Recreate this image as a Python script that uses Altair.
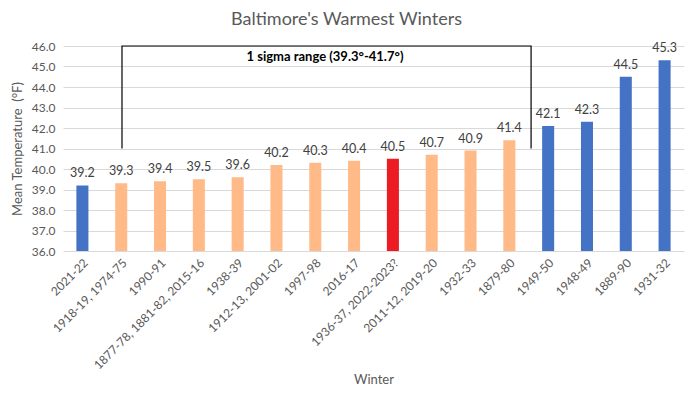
import altair as alt
import pandas as pd

winters = ["2021-22", "1918-19, 1974-75", "1990-91", "1877-78, 1881-82, 2015-16",
           "1938-39", "1912-13, 2001-02", "1997-98", "2016-17", "1936-37, 2022-2023?",
           "2011-12, 2019-20", "1932-33", "1879-80", "1949-50", "1948-49", "1889-90", "1931-32"]
temps = [39.2, 39.3, 39.4, 39.5, 39.6, 40.2, 40.3, 40.4, 40.5, 40.7, 40.9, 41.4,
         42.1, 42.3, 44.5, 45.3]
groups = ["outside", "inside", "inside", "inside", "inside", "inside", "inside", "inside",
          "current", "inside", "inside", "inside", "outside", "outside", "outside", "outside"]
y_ticks = [36, 37, 38, 39, 40, 41, 42, 43, 44, 45, 46]

# bracket for the 1 sigma range, in category-index units (centre of band i = i + 0.5)
bracket_x = [1.52, 1.52, 12.06, 12.06]
bracket_y = [41.0, 46.0, 46.0, 41.0]
bracket_label = "1 sigma range (39.3°-41.7°)"
label_x = [6.75]
label_y = [45.45]

df = pd.DataFrame({"Winter": winters, "Temp": temps, "Group": groups})
bdf = pd.DataFrame({"bx": bracket_x, "by": bracket_y, "order": list(range(len(bracket_x)))})
ldf = pd.DataFrame({"lx": label_x, "ly": label_y, "text": [bracket_label]})

FONT = "Lato"
GREY = "#595959"
YTITLE = "Mean Temperature \u00a0(°F)"

yscale = alt.Scale(domain=[36, 46], nice=False, zero=False)
xband = alt.Scale(paddingInner=0.69, paddingOuter=0.345)


def yaxis():
    return alt.Axis(values=y_ticks, format=".1f", labelOverlap=False, tickCount=11,
                    labelFontSize=12, labelColor=GREY, labelFont=FONT, titleFont=FONT,
                    titleFontSize=13, titleColor=GREY, titleFontWeight="normal",
                    ticks=False, domain=False, gridColor="#d9d9d9", labelPadding=8,
                    titlePadding=7)


base = alt.Chart(df)

bars = base.mark_bar().encode(
    x=alt.X("Winter:N", sort=winters, scale=xband,
            axis=alt.Axis(title="Winter", labelAngle=-45, labelFontSize=12, labelColor=GREY,
                          labelFont=FONT, titleFont=FONT, titleFontSize=13, titleColor=GREY,
                          titleFontWeight="normal", titlePadding=2, ticks=False, domain=False,
                          labelPadding=6, labelLimit=300)),
    y=alt.Y("Temp:Q", scale=yscale, title=YTITLE, axis=yaxis()),
    y2=alt.datum(36),
    color=alt.Color("Group:N",
                    scale=alt.Scale(domain=["outside", "inside", "current"],
                                    range=["#4472C4", "#FFBA88", "#ED1C24"]),
                    legend=None),
)

labels = base.mark_text(baseline="bottom", dy=-5, fontSize=12.5, font=FONT, color="#404040").encode(
    x=alt.X("Winter:N", sort=winters, scale=xband),
    y=alt.Y("Temp:Q", scale=yscale, title=YTITLE, axis=yaxis()),
    text=alt.Text("Temp:Q", format=".1f"),
)

bar_layer = alt.layer(bars, labels)

xq = alt.Scale(domain=[0, 16], nice=False, zero=False)
bracket = alt.Chart(bdf).mark_line(color="black", strokeWidth=1.2).encode(
    x=alt.X("bx:Q", scale=xq, axis=None),
    y=alt.Y("by:Q", scale=yscale, title=YTITLE, axis=yaxis()),
    order="order:Q",
)
btext = alt.Chart(ldf).mark_text(fontSize=13, fontWeight="bold", font=FONT, color="black",
                                 baseline="middle").encode(
    x=alt.X("lx:Q", scale=xq, axis=None),
    y=alt.Y("ly:Q", scale=yscale, title=YTITLE, axis=yaxis()),
    text="text:N",
)

chart = alt.layer(bar_layer, bracket, btext).resolve_scale(x="independent").properties(
    width=621, height=205,
    autosize=alt.AutoSizeParams(type="none"),
    padding={"left": 55, "top": 38, "right": 4, "bottom": 136},
    title=alt.TitleParams("Baltimore's Warmest Winters", fontSize=18, font=FONT, color=GREY,
                          fontWeight="normal", anchor="middle", dx=-27, offset=11),
).configure_view(stroke=None)

chart.save("out.html", embed_options={"renderer": "svg", "actions": False})
